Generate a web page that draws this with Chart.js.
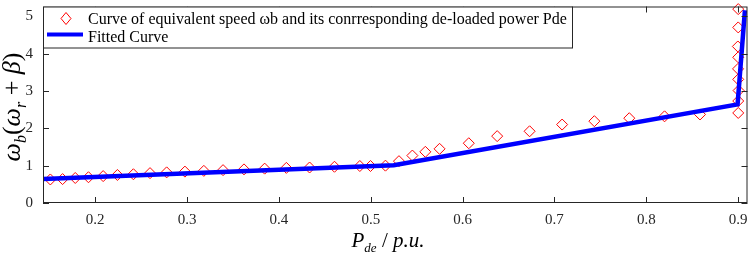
<!DOCTYPE html>
<html>
<head>
<meta charset="utf-8">
<script src="https://cdn.jsdelivr.net/npm/chart.js@4.4.1/dist/chart.umd.min.js"></script>
<style>
  html, body { margin: 0; padding: 0; background: #fff; }
  #wrap { width: 754px; height: 256px; }
</style>
</head>
<body>
<div id="wrap"><canvas id="speedChart"></canvas></div>
<script>
// measured points: equivalent speed vs de-loaded power
var speedX = [0.1512, 0.1645, 0.1783, 0.1927, 0.2087, 0.2242, 0.2416, 0.2597, 0.2778, 0.2977,
              0.3183, 0.3392, 0.3620, 0.3845, 0.4081, 0.4334, 0.4605, 0.4881, 0.4997, 0.5160,
              0.5307, 0.5453, 0.5594, 0.5749, 0.6067, 0.6376, 0.6729, 0.7083, 0.7434, 0.7814,
              0.8198, 0.8584, 0.9000, 0.9000, 0.9004, 0.9000, 0.8998, 0.9000, 0.8996, 0.9000, 0.9000];
var speedY = [0.63, 0.64, 0.67, 0.69, 0.72, 0.75, 0.77, 0.80, 0.82, 0.84,
              0.86, 0.88, 0.90, 0.92, 0.94, 0.95, 0.97, 0.99, 0.99, 1.00,
              1.12, 1.27, 1.37, 1.45, 1.60, 1.79, 1.92, 2.10, 2.19, 2.27,
              2.32, 2.37, 2.41, 2.73, 3.01, 3.31, 3.59, 3.90, 4.19, 4.70, 5.19];

// fitted piecewise curve
var fitX = [0.1432, 0.525, 0.8993, 0.9073];
var fitY = [0.645, 1.01, 2.64, 5.16];

var xTicks = [0.2, 0.3, 0.4, 0.5, 0.6, 0.7, 0.8, 0.9];
var yTicks = [0, 1, 2, 3, 4, 5];

var legendLabels = ['Curve of equivalent speed \u03c9b and its conrresponding de-loaded power Pde', 'Fitted Curve'];

var serif = "'Liberation Serif', 'DejaVu Serif', serif";
var axisColor = '#262626';

function pairs(xs, ys) {
  return xs.map(function (x, i) { return { x: x, y: ys[i] }; });
}

// draws a run of text pieces (italic / subscript) starting at x on baseline
function drawPieces(ctx, pieces, x, y) {
  pieces.forEach(function (p) {
    ctx.font = (p.it ? 'italic ' : '') + p.size + 'px ' + serif;
    ctx.fillText(p.t, x, y + (p.dy || 0));
    x += ctx.measureText(p.t).width;
  });
}
function piecesWidth(ctx, pieces) {
  var w = 0;
  pieces.forEach(function (p) {
    ctx.font = (p.it ? 'italic ' : '') + p.size + 'px ' + serif;
    w += ctx.measureText(p.t).width;
  });
  return w;
}

var framePlugin = {
  id: 'frame',
  afterDatasetsDraw: function (chart) {
    var ctx = chart.ctx, a = chart.chartArea;
    var xs = chart.scales.x, ys = chart.scales.y;
    ctx.save();
    ctx.strokeStyle = axisColor;
    ctx.lineWidth = 1;
    ctx.strokeRect(a.left + 0.5, a.top + 0.5, a.right - a.left - 1, a.bottom - a.top - 1);
    ctx.beginPath();
    xTicks.forEach(function (v) {
      var px = Math.round(xs.getPixelForValue(v)) + 0.5;
      ctx.moveTo(px, a.bottom); ctx.lineTo(px, a.bottom - 6);
      ctx.moveTo(px, a.top); ctx.lineTo(px, a.top + 6);
    });
    yTicks.forEach(function (v) {
      var py = Math.round(ys.getPixelForValue(v)) + 0.5;
      ctx.moveTo(a.left, py); ctx.lineTo(a.left + 6, py);
      ctx.moveTo(a.right, py); ctx.lineTo(a.right - 6, py);
    });
    ctx.stroke();

    // legend box
    var lx = a.left, ly = a.top, lw = 529, lh = 41;
    ctx.fillStyle = '#fff';
    ctx.fillRect(lx, ly, lw, lh);
    ctx.strokeRect(lx + 0.5, ly + 0.5, lw, lh);
    ctx.strokeStyle = '#ff0000';
    ctx.beginPath();
    ctx.moveTo(lx + 23, ly + 6); ctx.lineTo(lx + 28, ly + 12);
    ctx.lineTo(lx + 23, ly + 18); ctx.lineTo(lx + 18, ly + 12);
    ctx.closePath();
    ctx.stroke();
    ctx.strokeStyle = '#0000ff';
    ctx.lineWidth = 4;
    ctx.beginPath();
    ctx.moveTo(lx + 4, ly + 28); ctx.lineTo(lx + 40, ly + 28);
    ctx.stroke();
    ctx.fillStyle = '#000';
    ctx.textBaseline = 'alphabetic';
    ctx.font = '16px ' + serif;
    ctx.fillText(legendLabels[0], lx + 45, ly + 17.5);
    ctx.fillText(legendLabels[1], lx + 45, ly + 35.5);

    // axis titles with subscripts
    var xt = [
      { t: 'P', it: true, size: 21 },
      { t: 'de', it: true, size: 13, dy: 5 },
      { t: ' / ', it: false, size: 21 },
      { t: 'p.u.', it: true, size: 21 }
    ];
    var cx = 388;
    drawPieces(ctx, xt, cx - piecesWidth(ctx, xt) / 2, 247);

    var yt = [
      { t: '\u03c9', it: true, size: 26 },
      { t: 'b', it: true, size: 16, dy: 6 },
      { t: '(', it: false, size: 26 },
      { t: '\u03c9', it: true, size: 26 },
      { t: 'r', it: true, size: 16, dy: 6 },
      { t: ' + ', it: false, size: 26 },
      { t: '\u03b2', it: true, size: 26 },
      { t: ')', it: false, size: 26 }
    ];
    ctx.translate(20, 107);
    ctx.rotate(-Math.PI / 2);
    drawPieces(ctx, yt, -piecesWidth(ctx, yt) / 2, 0);
    ctx.restore();
  }
};

new Chart(document.getElementById('speedChart'), {
  type: 'scatter',
  data: {
    datasets: [
      {
        label: legendLabels[1],
        type: 'line',
        data: pairs(fitX, fitY),
        borderColor: '#0000ff',
        borderWidth: 4.5,
        pointRadius: 0,
        fill: false,
        tension: 0,
        order: 0
      },
      {
        label: legendLabels[0],
        data: pairs(speedX, speedY),
        pointStyle: 'rectRot',
        pointRadius: 5.5,
        pointBorderColor: '#ff0000',
        pointBackgroundColor: 'rgba(0,0,0,0)',
        pointBorderWidth: 1,
        clip: false,
        order: 1
      }
    ]
  },
  plugins: [framePlugin],
  options: {
    responsive: true,
    maintainAspectRatio: false,
    animation: false,
    layout: { padding: { top: 6, right: 4.5, left: 0, bottom: 0 } },
    plugins: {
      legend: { display: false },
      tooltip: { enabled: false }
    },
    scales: {
      x: {
        type: 'linear',
        min: 0.1432,
        max: 0.9101,
        afterBuildTicks: function (s) { s.ticks = xTicks.map(function (v) { return { value: v }; }); },
        afterFit: function (s) {
          s.height = 53;
          s.paddingLeft = 0; s.paddingRight = 0;
        },
        grid: { display: false, drawTicks: false },
        border: { display: false },
        ticks: {
          padding: 8,
          color: axisColor,
          font: { family: serif, size: 15 },
          callback: function (v) { return v.toFixed(1); }
        }
      },
      y: {
        type: 'linear',
        min: 0,
        max: 5.26,
        afterBuildTicks: function (s) { s.ticks = yTicks.map(function (v) { return { value: v }; }); },
        afterFit: function (s) {
          s.width = 43;
          s.paddingTop = 0; s.paddingBottom = 0;
        },
        grid: { display: false, drawTicks: false },
        border: { display: false },
        ticks: {
          padding: 10,
          color: axisColor,
          font: { family: serif, size: 15 },
          callback: function (v) { return String(v); }
        }
      }
    }
  }
});
</script>
</body>
</html>
